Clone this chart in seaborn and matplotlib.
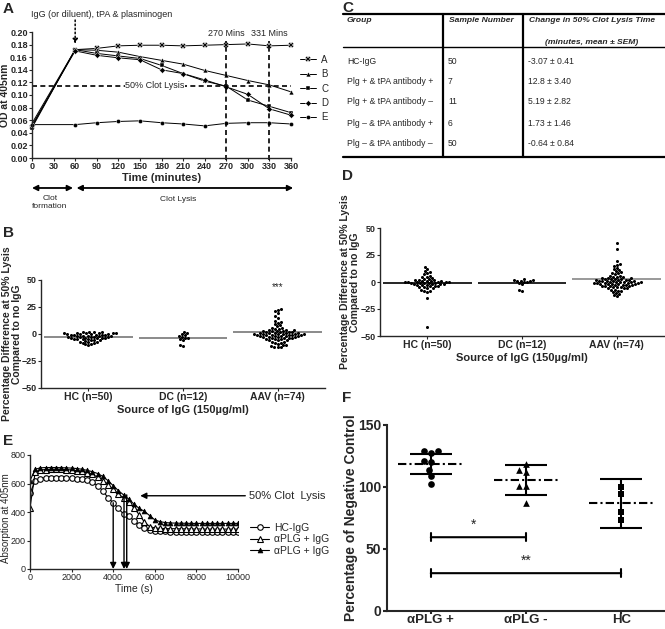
# clot lysis figure, panels A-F

import numpy as np
import pandas as pd
import matplotlib
matplotlib.use("Agg")
import matplotlib.pyplot as plt
import seaborn as sns

sns.set_style("ticks")
plt.rcParams['font.family'] = ['Liberation Sans', 'DejaVu Sans']
plt.rcParams['axes.linewidth'] = 1.0
plt.rcParams['xtick.major.size'] = 2
plt.rcParams['ytick.major.size'] = 2
plt.rcParams['xtick.major.pad'] = 1
plt.rcParams['ytick.major.pad'] = 1

# --- A: OD time courses ---
time_a = [0, 60, 90, 120, 150, 180, 210, 240, 270, 300, 330, 360]
od_a = [0.050, 0.172, 0.174, 0.178, 0.179, 0.179, 0.178, 0.179, 0.180, 0.181, 0.178, 0.179]
od_b = [0.055, 0.172, 0.171, 0.168, 0.161, 0.155, 0.149, 0.139, 0.131, 0.123, 0.116, 0.105]
od_c = [0.048, 0.172, 0.166, 0.162, 0.158, 0.147, 0.134, 0.122, 0.114, 0.092, 0.082, 0.072]
od_d = [0.052, 0.170, 0.163, 0.159, 0.156, 0.140, 0.134, 0.124, 0.113, 0.101, 0.078, 0.068]
od_e = [0.053, 0.053, 0.056, 0.058, 0.059, 0.056, 0.054, 0.051, 0.055, 0.056, 0.056, 0.054]
series_a = ["A", "B", "C", "D", "E"]
lysis_50 = 0.115
lysis_times = [270, 330]
lysis_labels = ["270 Mins", "331 Mins"]

# --- B / D: % difference at 50% lysis ---
groups_bd = ["HC (n=50)", "DC (n=12)", "AAV (n=74)"]
hc_b = [2, 2, 1.5, 1.5, 1, 1, 1, 0.5, 0.5, 0.5,
        0, 0, 0, 0, -0.5, -0.5, -1, -1, -1, -1.5,
        -1.5, -2, -2, -2, -2.5, -2.5, -3, -3, -3, -3.5,
        -3.5, -4, -4, -4, -4.5, -4.5, -5, -5, -5.5, -6,
        -6, -6.5, -7, -7, -7.5, -8, -8.5, -9, -9.5, -10.5]
dc_b = [2, 1, 0, -1, -2, -3, -4, -4, -5, -6, -10, -11]
aav_b = [23, 22, 21, 19, 17, 15, 12, 11, 10, 9,
         8, 7, 6, 6, 5, 5, 4, 4, 4, 3,
         3, 3, 3, 2, 2, 2, 2, 1, 1, 1,
         1, 1, 0, 0, 0, 0, 0, 0, -1, -1,
         -1, -1, -1, -1, -2, -2, -2, -2, -2, -3,
         -3, -3, -3, -4, -4, -4, -4, -5, -5, -5,
         -6, -6, -6, -7, -7, -8, -8, -9, -10, -10,
         -11, -12, -12, -12]
means_b = [-3.2, -4.0, 1.9]

hc_d = [14, 12, 10, 9, 8, 7, 6, 5, 5, 4,
        3, 3, 2, 2, 2, 1, 1, 1, 1, 0,
        0, 0, 0, 0, 0, -1, -1, -1, -1, -1,
        -2, -2, -2, -2, -3, -3, -3, -4, -4, -4,
        -5, -5, -6, -6, -7, -8, -8, -9, -15, -42]
dc_d = [3, 2, 2, 1, 1, 1, 0, 0, -1, -2, -7, -8]
aav_d = [36, 31, 19, 17, 16, 15, 13, 12, 11, 10,
         9, 8, 8, 7, 6, 6, 5, 5, 5, 4,
         4, 4, 3, 3, 3, 3, 2, 2, 2, 2,
         1, 1, 1, 1, 1, 0, 0, 0, 0, 0,
         0, -1, -1, -1, -1, -1, -2, -2, -2, -2,
         -2, -3, -3, -3, -3, -4, -4, -4, -4, -5,
         -5, -5, -6, -6, -6, -7, -7, -8, -8, -9,
         -10, -11, -12, -13]
means_d = [-0.9, -1.0, 2.5]

# --- C: table ---
tab_group = ["HC-IgG", "Plg + & tPA antibody +", "Plg + & tPA antibody \u2013",
             "Plg \u2013 & tPA antibody +", "Plg \u2013 & tPA antibody \u2013"]
tab_n = ["50", "7", "11", "6", "50"]
tab_change = ["-3.07 \u00b1 0.41", "12.8 \u00b1 3.40", "5.19 \u00b1 2.82",
              "1.73 \u00b1 1.46", "-0.64 \u00b1 0.84"]

# --- E: absorption curves ---
time_e = [0, 250, 500, 750, 1000, 1250, 1500, 1750, 2000, 2250,
          2500, 2750, 3000, 3250, 3500, 3750, 4000, 4250, 4500, 4750,
          5000, 5250, 5500, 5750, 6000, 6250, 6500, 6750, 7000, 7250,
          7500, 7750, 8000, 8250, 8500, 8750, 9000, 9250, 9500, 9750, 10000]
abs_hc = [535, 615, 635, 640, 642, 642, 642, 640, 638, 635,
          630, 622, 610, 585, 550, 500, 465, 425, 385, 370,
          340, 310, 288, 275, 268, 265, 264, 263, 262, 262,
          262, 261, 261, 261, 261, 260, 260, 260, 260, 260, 260]
abs_plg1 = [430, 680, 695, 698, 700, 700, 700, 698, 695, 690,
            685, 675, 665, 645, 620, 590, 560, 525, 500, 470,
            430, 380, 330, 298, 288, 285, 284, 283, 283, 282,
            282, 281, 281, 281, 280, 280, 280, 280, 280, 280, 280]
abs_plg2 = [620, 700, 710, 712, 712, 712, 711, 710, 708, 705,
            700, 692, 683, 670, 650, 620, 585, 550, 520, 490,
            455, 425, 405, 375, 345, 332, 326, 323, 322, 321,
            321, 320, 320, 320, 320, 320, 320, 320, 320, 320, 320]
arrow_t = [4000, 4520, 4650]
arrow_top = [465, 500, 520]

# --- F: % of negative control ---
groups_f = ["\u03b1PLG +", "\u03b1PLG -", "HC"]
f_plg_pos = [128.7, 127.4, 128.7, 120.0, 120.7, 114.0, 108.8, 102.1]
f_plg_neg = [118.4, 112.0, 113.8, 100.8, 100.8, 86.8]
f_hc = [100.0, 94.0, 80.0, 73.0]
means_f = [118.6, 105.7, 86.8]
sd_f = [8.2, 12.3, 20.0]
sig_pairs = [(0, 1, "*", 59.5), (0, 2, "**", 30.5)]

W, H = 665, 629
fig = plt.figure(figsize=(W / 100, H / 100), dpi=100)


def px_axes(x0, y0, x1, y1):
    return fig.add_axes([x0 / W, 1 - y1 / H, (x1 - x0) / W, (y1 - y0) / H])


def bold_ticks(ax, size):
    for t in ax.get_xticklabels() + ax.get_yticklabels():
        t.set_fontweight("bold")
        t.set_fontsize(size)


# ---------------- A ----------------
ax = px_axes(32, 32, 291, 158)
markers_a = ["X", "^", "s", "D", "o"]
sizes_a = [4, 3.5, 3.5, 3, 3]
for name, vals, mk, ms in zip(series_a, [od_a, od_b, od_c, od_d, od_e], markers_a, sizes_a):
    sns.lineplot(x=time_a, y=vals, ax=ax, color="k", lw=0.7, marker=mk,
                 markersize=ms, markeredgewidth=0.3, label=name, clip_on=False)
ax.set_xlim(0, 360)
ax.set_ylim(0, 0.20)
ax.set_xticks(range(0, 361, 30))
ax.set_yticks(np.arange(0, 0.201, 0.02))
ax.set_yticklabels([f"{v:.2f}" for v in np.arange(0, 0.201, 0.02)])
bold_ticks(ax, 6.5)
ax.set_xlabel("Time (minutes)", fontsize=8, fontweight="bold", labelpad=1)
ax.set_ylabel("OD at 405nm", fontsize=7.5, fontweight="bold")
ax.yaxis.set_label_coords(-0.085, 0.5)
sns.despine(ax=ax)
ax.legend(loc="upper left", bbox_to_anchor=(1.02, 0.85), frameon=False, fontsize=7,
          handlelength=1.6, labelspacing=0.45, handletextpad=0.6, borderaxespad=0)
ax.axhline(lysis_50, color="k", ls=(0, (3, 2)), lw=1.2)
ax.text(171, lysis_50, "50% Clot Lysis", fontsize=6.5, ha="center", va="center",
        bbox=dict(fc="white", ec="none", pad=0.5))
for tx, lab in zip(lysis_times, lysis_labels):
    ax.plot([tx, tx], [-0.003, 0.185], color="k", ls=(0, (3, 2)), lw=1.2, clip_on=False)
    ax.text(tx, 0.19, lab, fontsize=6.5, ha="center", va="bottom")
ax.text(97, 0.227, "IgG (or diluent), tPA & plasminogen", fontsize=6.5, ha="center", va="center")
ax.annotate("", xy=(60, 0.181), xytext=(60, 0.219), annotation_clip=False,
            arrowprops=dict(arrowstyle="-|>", ls=":", lw=1.1, color="k",
                            mutation_scale=7, shrinkA=0, shrinkB=0))
for x0, x1 in [(0, 57), (62, 363)]:
    ax.annotate("", xy=(x0, -0.0476), xytext=(x1, -0.0476), xycoords="data",
                annotation_clip=False,
                arrowprops=dict(arrowstyle="<|-|>", lw=1.3, color="k",
                                mutation_scale=8, shrinkA=0, shrinkB=0))
ax.text(25, -0.071, "Clot\nformation", fontsize=6, ha="center", va="center", linespacing=1.3)
ax.text(203, -0.066, "Clot Lysis", fontsize=6, ha="center", va="center")

# ---------------- B / D ----------------
def swarm_panel(ax, vals, means, line_colors, label_x):
    df = pd.DataFrame({"group": np.repeat(groups_bd, [len(v) for v in vals]),
                       "val": np.concatenate(vals)})
    sns.swarmplot(data=df, x="group", y="val", order=groups_bd, color="k",
                  size=2.2, ax=ax, warn_thresh=1)
    for i, (m, c) in enumerate(zip(means, line_colors)):
        ax.hlines(m, i - 0.47, i + 0.47, color=c, lw=1.2, zorder=1)
    ax.set_xlim(-0.5, 2.5)
    ax.set_ylim(-50, 50)
    ax.set_yticks([-50, -25, 0, 25, 50])
    bold_ticks(ax, 6.5)
    ax.tick_params(axis="x", labelsize=7.5)
    ax.set_xlabel("Source of IgG (150\u00b5g/ml)", fontsize=8, fontweight="bold", labelpad=2)
    ax.set_ylabel("Percentage Difference at 50% Lysis\nCompared to no IgG",
                  fontsize=7.5, fontweight="bold", linespacing=1.05)
    ax.yaxis.set_label_coords(label_x, 0.5)
    sns.despine(ax=ax)


axb = px_axes(41, 280, 325, 388)
swarm_panel(axb, [hc_b, dc_b, aav_b], means_b, ["#777777"] * 3, -0.066)
axb.text(2, 43, "***", fontsize=7, ha="center", va="center")

axd = px_axes(380, 228, 664, 336)
swarm_panel(axd, [hc_d, dc_d, aav_d], means_d, ["k", "k", "#888888"], -0.069)

# ---------------- C ----------------
axc = px_axes(340, 0, 665, 165)
axc.set_xlim(0, 325)
axc.set_ylim(165, 0)
axc.axis("off")
axc.plot([3, 325], [14, 14], color="k", lw=1.6)
axc.plot([3, 325], [47, 47], color="k", lw=1.0)
axc.plot([3, 325], [157, 157], color="k", lw=1.6)
for xv in [103, 183]:
    axc.plot([xv, xv], [14, 157], color="k", lw=1.6)
hdr = dict(fontsize=6.1, fontweight="bold", fontstyle="italic", va="center")
axc.text(7, 20, "Group", **hdr)
axc.text(109, 20, "Sample Number", **hdr)
axc.text(189, 20, "Change in 50% Clot Lysis Time", **hdr)
axc.text(252, 42, "(minutes, mean \u00b1 SEM)", ha="center", **hdr)
for yv, g, n, c in zip([62, 82, 102, 123, 143], tab_group, tab_n, tab_change):
    axc.text(7, yv, g, fontsize=6.2, va="center")
    axc.text(108, yv, n, fontsize=6.2, va="center")
    axc.text(188, yv, c, fontsize=6.2, va="center")

# ---------------- E ----------------
axe = px_axes(30, 455, 238, 569)
sns.lineplot(x=time_e, y=abs_hc, ax=axe, color="k", lw=0.8, marker="o", markersize=4,
             mfc="white", mec="k", mew=0.8, label="HC-IgG")
sns.lineplot(x=time_e, y=abs_plg1, ax=axe, color="k", lw=0.8, marker="^", markersize=4.5,
             mfc="white", mec="k", mew=0.8, label="\u03b1PLG + IgG")
sns.lineplot(x=time_e, y=abs_plg2, ax=axe, color="k", lw=0.8, marker="^", markersize=3.5,
             mfc="k", mec="k", mew=0.5, label="\u03b1PLG + IgG")
for t, top in zip(arrow_t, arrow_top):
    axe.annotate("", xy=(t, 0), xytext=(t, top),
                 arrowprops=dict(arrowstyle="-|>", lw=1.0, color="k",
                                 mutation_scale=9, shrinkA=0, shrinkB=0))
axe.annotate("", xy=(5300, 514), xytext=(10350, 514), annotation_clip=False,
             arrowprops=dict(arrowstyle="-|>", lw=1.0, color="k",
                             mutation_scale=9, shrinkA=0, shrinkB=0))
axe.text(10550, 514, "50% Clot  Lysis", fontsize=8, va="center", ha="left")
axe.set_xlim(0, 10000)
axe.set_ylim(0, 800)
axe.set_xticks(range(0, 10001, 2000))
axe.set_yticks(range(0, 801, 200))
axe.tick_params(labelsize=6.5)
axe.set_xlabel("Time (s)", fontsize=7.5, labelpad=1)
axe.set_ylabel("Absorption at 405nm", fontsize=7)
axe.yaxis.set_label_coords(-0.091, 0.45)
sns.despine(ax=axe)
axe.legend(loc="center left", bbox_to_anchor=(1.04, 0.26), frameon=False, fontsize=7.5,
           handlelength=1.8, labelspacing=0.15, handletextpad=0.5, borderaxespad=0)

# ---------------- F ----------------
axf = px_axes(387, 425, 665, 611)
for name, vals, mk in zip(groups_f, [f_plg_pos, f_plg_neg, f_hc], ["o", "^", "s"]):
    sns.swarmplot(x=[name] * len(vals), y=vals, order=groups_f, color="k",
                  marker=mk, size=4.8, ax=axf, zorder=3)
for i, m in enumerate(means_f):
    axf.hlines(m, i - 0.34, i + 0.34, color="k", lw=1.5, linestyles=(0, (4, 1.5, 1, 1.5)))
axf.errorbar(range(3), means_f, yerr=sd_f, fmt="none", ecolor="k", elinewidth=1.5,
             capsize=15, capthick=1.5)
for a, b, lab, yv in sig_pairs:
    axf.annotate("", xy=(a, yv), xytext=(b, yv),
                 arrowprops=dict(arrowstyle="|-|", lw=1.5, color="k",
                                 mutation_scale=3, shrinkA=0, shrinkB=0))
    axf.text((a + b) / 2 - (0.05 if b == 1 else 0), yv + 4, lab, fontsize=10,
             ha="center", va="bottom")
axf.set_xlim(-0.46, 2.46)
axf.set_ylim(0, 150)
axf.set_yticks([0, 50, 100, 150])
axf.spines["left"].set_linewidth(1.5)
axf.spines["bottom"].set_linewidth(1.5)
axf.tick_params(width=1.5, length=3, pad=1)
axf.tick_params(axis="x", length=2, pad=0.5)
bold_ticks(axf, 10)
for t in axf.get_xticklabels():
    t.set_fontsize(9.5)
axf.set_ylabel("Percentage of Negative Control", fontsize=10, fontweight="bold")
axf.yaxis.set_label_coords(-0.105, 0.5)
sns.despine(ax=axf)

# panel letters
for lab, x, y in [("A", 3, 9), ("B", 3, 233), ("C", 342, 8), ("D", 342, 176),
                  ("E", 3, 441), ("F", 342, 398)]:
    fig.text(x / W, 1 - y / H, lab, fontsize=11, fontweight="bold", va="center")

fig.savefig("out.png", dpi=100)
